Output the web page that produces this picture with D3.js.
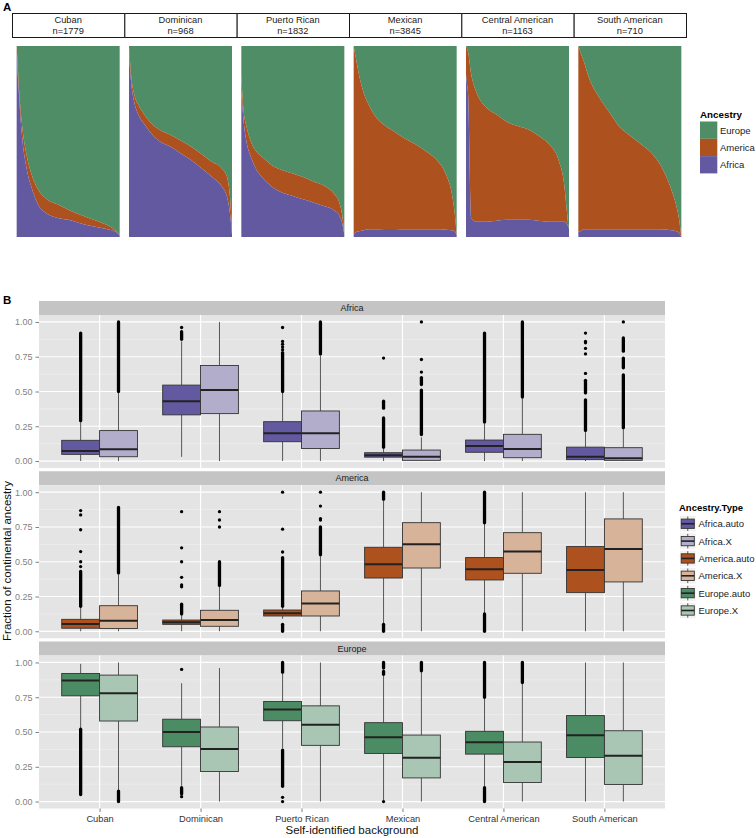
<!DOCTYPE html>
<html><head><meta charset="utf-8">
<script src="https://cdn.jsdelivr.net/npm/d3@7"></script>
<style>
body{margin:0;background:#fff}
svg{display:block;font-family:"Liberation Sans",Arial,Helvetica,sans-serif}
</style>
</head><body><svg id="chart" width="756" height="838"></svg>
<script>
// ---------------- DATA ----------------
const categories = ["Cuban","Dominican","Puerto Rican","Mexican","Central American","South American"];
const sampleSizes = [1779, 968, 1832, 3845, 1163, 710];

// Panel A: individuals ordered by European share; values at relative positions
const positions = [0,0.01,0.02,0.05,0.1,0.15,0.2,0.3,0.4,0.5,0.6,0.7,0.8,0.9,0.95,0.98,1];
const europeFrac = [
  [0,0.10,0.20,0.40,0.58,0.68,0.744,0.805,0.83,0.857,0.88,0.90,0.92,0.944,0.962,0.975,0.988],
  [0,0.08,0.15,0.25,0.317,0.36,0.395,0.44,0.465,0.495,0.526,0.564,0.605,0.64,0.683,0.787,0.96],
  [0.15,0.25,0.33,0.42,0.51,0.555,0.58,0.625,0.65,0.668,0.686,0.709,0.73,0.773,0.817,0.887,0.983],
  [0,0.03,0.058,0.145,0.25,0.311,0.36,0.415,0.45,0.485,0.515,0.551,0.593,0.677,0.764,0.869,0.99],
  [0,0.015,0.031,0.145,0.241,0.293,0.323,0.36,0.398,0.419,0.436,0.468,0.511,0.599,0.712,0.869,0.99],
  [0,0.014,0.031,0.075,0.162,0.223,0.267,0.346,0.424,0.468,0.511,0.555,0.625,0.747,0.834,0.913,1.0]
];
const africaFrac = [
  [0.97,0.86,0.77,0.54,0.35,0.25,0.178,0.12,0.10,0.09,0.075,0.06,0.05,0.038,0.03,0.02,0.01],
  [0.96,0.88,0.814,0.709,0.631,0.59,0.552,0.5,0.474,0.439,0.404,0.361,0.317,0.265,0.213,0.125,0.012],
  [0.76,0.69,0.62,0.5,0.41,0.35,0.314,0.262,0.232,0.215,0.197,0.18,0.162,0.14,0.113,0.07,0.012],
  [0.02,0.02,0.025,0.03,0.035,0.04,0.04,0.042,0.042,0.04,0.04,0.04,0.04,0.038,0.035,0.03,0.01],
  [0.85,0.8,0.75,0.1,0.08,0.08,0.08,0.085,0.09,0.09,0.09,0.085,0.08,0.08,0.08,0.07,0.04],
  [0.03,0.03,0.03,0.04,0.04,0.04,0.04,0.04,0.04,0.04,0.04,0.04,0.04,0.035,0.03,0.02,0.0]
];

// Panel B: box statistics [lower whisker, q1, median, q3, upper whisker]
const africaAutoStats = [[0,0.048,0.072,0.149,0.283],[0.03,0.332,0.43,0.546,0.86],[0,0.139,0.2,0.283,0.49],[0,0.028,0.042,0.06,0.1],[0,0.063,0.108,0.151,0.27],[0,0.01,0.031,0.1,0.21]];
const africaXStats = [[0,0.031,0.084,0.219,0.49],[0,0.341,0.51,0.687,1.0],[0,0.09,0.2,0.36,0.76],[0,0.005,0.03,0.079,0.17],[0,0.024,0.086,0.192,0.45],[0,0.005,0.02,0.096,0.236]];
const americaAutoStats = [[0,0.022,0.053,0.086,0.177],[0,0.05,0.065,0.081,0.12],[0.09,0.11,0.13,0.153,0.17],[0.058,0.383,0.482,0.604,0.945],[0.13,0.369,0.446,0.53,0.777],[0,0.278,0.441,0.609,1.0]];
const americaXStats = [[0,0.02,0.076,0.184,0.41],[0,0.036,0.082,0.151,0.32],[0,0.11,0.2,0.29,0.54],[0,0.455,0.626,0.781,1.0],[0,0.417,0.573,0.709,1.0],[0,0.355,0.592,0.808,1.0]];
const europeAutoStats = [[0.527,0.76,0.87,0.921,0.99],[0.113,0.394,0.5,0.592,0.851],[0.382,0.581,0.661,0.719,0.924],[0.01,0.346,0.462,0.567,0.911],[0.105,0.341,0.426,0.505,0.743],[0,0.317,0.476,0.618,1.0]];
const europeXStats = [[0.08,0.579,0.779,0.909,1.0],[0,0.216,0.377,0.536,0.96],[0,0.404,0.553,0.688,1.0],[0,0.17,0.315,0.478,0.935],[0,0.137,0.284,0.428,0.851],[0,0.123,0.329,0.509,1.0]];

// Outliers: dense runs [from, to] and single points
const africaAutoRuns = [[[0.29,0.92]],[[0.875,0.93]],[[0.5,0.78]],[[0.38,0.43],[0.1,0.31]],[[0.28,0.92]],[[0.49,0.58],[0.22,0.44]]];
const africaAutoPoints = [[],[0.96],[0.96,0.86,0.84,0.82,0.8],[0.74],[],[0.92,0.86,0.85,0.81,0.77,0.63]];
const africaXRuns = [[[0.5,1.0]],[],[[0.77,1.0]],[[0.55,0.6],[0.19,0.51]],[[0.46,1.0]],[[0.79,0.885],[0.67,0.74],[0.24,0.62]]];
const africaXPoints = [[],[],[],[1.0,0.73,0.64],[],[1.0]];
const americaAutoRuns = [[[0.18,0.43]],[[0.125,0.195]],[[0.18,0.53],[0.0,0.05]],[[0.95,1.0],[0.0,0.05]],[[0.78,1.0],[0.0,0.125]],[]];
const americaAutoPoints = [[0.465,0.5,0.573,0.73,0.837,0.868],[0.86,0.6,0.5,0.388,0.333,0.32],[0.57,0.734,1.0],[],[],[]];
const americaXRuns = [[[0.42,0.89]],[[0.33,0.5]],[[0.55,0.75]],[],[],[]];
const americaXPoints = [[],[0.75,0.8,0.86],[0.8,0.81,0.9,1.0],[],[],[]];
const europeAutoRuns = [[[0.05,0.52]],[[0.055,0.1]],[[0.93,1.0],[0.11,0.37]],[[0.96,1.0],[0.915,0.935]],[[0.75,1.0],[0.0,0.1]],[]];
const europeAutoPoints = [[],[0.95,0.035],[0.03,0.0],[0.0],[],[]];
const europeXRuns = [[[0.0,0.075]],[],[],[[0.94,1.0]],[[0.855,1.0]],[]];
const europeXPoints = [[],[],[],[],[],[]];

const ancestryNames = ["Europe","America","Africa"];
const seriesNames = ["Africa.auto","Africa.X","America.auto","America.X","Europe.auto","Europe.X"];
const yTicks = [0, 0.25, 0.5, 0.75, 1];
const yMinorTicks = [0.125, 0.375, 0.625, 0.875];

// ---------------- STYLES ----------------
const ancestryColors = {Europe:"#4E8D65", America:"#AD521F", Africa:"#6359A0"};
const seriesColors = {"Africa.auto":"#6359A0","Africa.X":"#B2ADCB","America.auto":"#AD511F","America.X":"#D7B39A","Europe.auto":"#4C8C64","Europe.X":"#A9C6B5"};

const svg = d3.select("#chart");

// ---------------- PANEL A ----------------
svg.append("text").attr("x",3).attr("y",10.5).attr("font-size",11.5).attr("font-weight","bold").text("A");

const stripBand = d3.scaleBand().domain(categories).range([12,686]);
const panelBand = d3.scaleBand().domain(categories).range([12,686]).paddingInner(0.083).paddingOuter(0.0415);
const yA = d3.scaleLinear().domain([0,1]).range([237,46]);

categories.forEach((c,i)=>{
  const g = svg.append("g");
  g.append("rect").attr("x",stripBand(c)+0.5).attr("y",13.5).attr("width",stripBand.bandwidth()).attr("height",24)
    .attr("fill","#fff").attr("stroke","#1a1a1a").attr("stroke-width",1);
  const cx = stripBand(c)+stripBand.bandwidth()/2;
  g.append("text").attr("x",cx).attr("y",23.3).attr("text-anchor","middle").attr("font-size",9.3).attr("fill","#222").text(c);
  g.append("text").attr("x",cx).attr("y",34).attr("text-anchor","middle").attr("font-size",9.3).attr("fill","#222").text("n="+sampleSizes[i]);

  const xA = d3.scaleLinear().domain([0,1]).range([panelBand(c), panelBand(c)+panelBand.bandwidth()]);
  const rows = positions.map((p,j)=>({p, a:africaFrac[i][j], e:europeFrac[i][j]}));
  const area = (lo,hi)=> d3.area().curve(d3.curveMonotoneX).x(d=>xA(d.p)).y0(d=>yA(lo(d))).y1(d=>yA(hi(d)));
  g.append("path").datum(rows).attr("fill",ancestryColors.Europe).attr("d",area(d=>1-d.e, d=>1));
  g.append("path").datum(rows).attr("fill",ancestryColors.America).attr("d",area(d=>d.a, d=>1-d.e));
  g.append("path").datum(rows).attr("fill",ancestryColors.Africa).attr("d",area(d=>0, d=>d.a));
});

// Legend A
const legA = svg.append("g");
legA.append("text").attr("x",700).attr("y",118).attr("font-size",9.8).attr("font-weight","bold").text("Ancestry");
ancestryNames.forEach((n,k)=>{
  const y0 = 121.5 + k*17.3;
  legA.append("rect").attr("x",700).attr("y",y0).attr("width",17.3).attr("height",17.3).attr("fill",ancestryColors[n]);
  legA.append("text").attr("x",720).attr("y",y0+12).attr("font-size",9.5).attr("fill","#222").text(n);
});

// ---------------- PANEL B ----------------
svg.append("text").attr("x",3).attr("y",303.5).attr("font-size",11.5).attr("font-weight","bold").text("B");

const xB = d3.scalePoint().domain(categories).range([39,665]).padding(0.6);
const step = xB.step();
const boxW = 0.375*step;

const facets = [
  {name:"Africa", top:301, series:[
    {key:"Africa.auto", stats:africaAutoStats, runs:africaAutoRuns, points:africaAutoPoints, off:-1},
    {key:"Africa.X", stats:africaXStats, runs:africaXRuns, points:africaXPoints, off:0}]},
  {name:"America", top:471.25, series:[
    {key:"America.auto", stats:americaAutoStats, runs:americaAutoRuns, points:americaAutoPoints, off:-1},
    {key:"America.X", stats:americaXStats, runs:americaXRuns, points:americaXPoints, off:0}]},
  {name:"Europe", top:641.5, series:[
    {key:"Europe.auto", stats:europeAutoStats, runs:europeAutoRuns, points:europeAutoPoints, off:-1},
    {key:"Europe.X", stats:europeXStats, runs:europeXRuns, points:europeXPoints, off:0}]}
];
const stripH = 14, panelH = 153, pL = 39, pR = 665;

facets.forEach((f,fi)=>{
  const g = svg.append("g");
  const pTop = f.top + stripH, pBot = pTop + panelH;
  const y = d3.scaleLinear().domain([-0.05,1.05]).range([pBot,pTop]);
  g.append("rect").attr("x",pL).attr("y",f.top).attr("width",pR-pL).attr("height",stripH).attr("fill","#C4C4C4");
  g.append("text").attr("x",(pL+pR)/2).attr("y",f.top+10.2).attr("text-anchor","middle").attr("font-size",9).attr("fill","#1a1a1a").text(f.name);
  g.append("rect").attr("x",pL).attr("y",pTop).attr("width",pR-pL).attr("height",panelH).attr("fill","#E4E4E4");
  yMinorTicks.forEach(t=>g.append("line").attr("x1",pL).attr("x2",pR).attr("y1",y(t)).attr("y2",y(t)).attr("stroke","#F1F1F1").attr("stroke-width",0.6));
  yTicks.forEach(t=>g.append("line").attr("x1",pL).attr("x2",pR).attr("y1",y(t)).attr("y2",y(t)).attr("stroke","#fff").attr("stroke-width",1.2));
  categories.forEach(c=>g.append("line").attr("x1",xB(c)).attr("x2",xB(c)).attr("y1",pTop).attr("y2",pBot).attr("stroke","#fff").attr("stroke-width",1.2));

  const ax = g.append("g").attr("transform",`translate(${pL},0)`)
    .call(d3.axisLeft(y).tickValues(yTicks).tickFormat(d3.format(".2f")).tickSize(3.5).tickPadding(3));
  ax.select(".domain").remove();
  ax.selectAll("line").attr("stroke","#7F7F7F");
  ax.selectAll("text").attr("fill","#7F7F7F").attr("font-size",9).attr("font-family",null);

  f.series.forEach(s=>{
    categories.forEach((c,i)=>{
      const [lw,q1,md,q3,uw] = s.stats[i];
      const x0 = xB(c) + s.off*boxW, cx = x0 + boxW/2;
      g.append("line").attr("x1",cx).attr("x2",cx).attr("y1",y(q3)).attr("y2",y(uw)).attr("stroke","#333").attr("stroke-width",0.8);
      g.append("line").attr("x1",cx).attr("x2",cx).attr("y1",y(q1)).attr("y2",y(lw)).attr("stroke","#333").attr("stroke-width",0.8);
      g.append("rect").attr("x",x0).attr("y",y(q3)).attr("width",boxW).attr("height",Math.max(0.5,y(q1)-y(q3)))
        .attr("fill",seriesColors[s.key]).attr("stroke","#333").attr("stroke-width",0.9);
      g.append("line").attr("x1",x0).attr("x2",x0+boxW).attr("y1",y(md)).attr("y2",y(md)).attr("stroke","#222").attr("stroke-width",2);
      s.runs[i].forEach(([lo,hi])=>g.append("line").attr("x1",cx).attr("x2",cx).attr("y1",y(lo)).attr("y2",y(hi))
        .attr("stroke","#000").attr("stroke-width",3.3).attr("stroke-linecap","round"));
      s.points[i].forEach(v=>g.append("circle").attr("cx",cx).attr("cy",y(v)).attr("r",1.65).attr("fill","#000"));
    });
  });

  if (fi === facets.length-1) {
    const xa = g.append("g").attr("transform",`translate(0,${pBot})`)
      .call(d3.axisBottom(xB).tickSize(3.5).tickPadding(3));
    xa.select(".domain").remove();
    xa.selectAll("line").attr("stroke","#7F7F7F");
    xa.selectAll("text").attr("fill","#333").attr("font-size",9.3).attr("font-family",null);
  }
});

// Axis titles
svg.append("text").attr("x",(pL+pR)/2).attr("y",833.5).attr("text-anchor","middle").attr("font-size",11.5).attr("fill","#111").text("Self-identified background");
svg.append("text").attr("transform","translate(11,561) rotate(-90)").attr("text-anchor","middle").attr("font-size",11.5).attr("fill","#111").text("Fraction of continental ancestry");

// Legend B
const legB = svg.append("g");
legB.append("text").attr("x",679).attr("y",511).attr("font-size",9.5).attr("font-weight","bold").text("Ancestry.Type");
seriesNames.forEach((n,k)=>{
  const y0 = 515.5 + k*17.35;
  legB.append("rect").attr("x",679.5).attr("y",y0).attr("width",16.5).attr("height",16.5).attr("fill","#F2F2F2").attr("stroke","#fff").attr("stroke-width",0.8);
  const cx = 679.5+8.25;
  legB.append("line").attr("x1",cx).attr("x2",cx).attr("y1",y0+1).attr("y2",y0+15.5).attr("stroke","#333").attr("stroke-width",0.8);
  legB.append("rect").attr("x",681.2).attr("y",y0+3.6).attr("width",13.1).attr("height",9.3).attr("fill",seriesColors[n]).attr("stroke","#333").attr("stroke-width",0.9);
  legB.append("line").attr("x1",681.2).attr("x2",694.3).attr("y1",y0+8.25).attr("y2",y0+8.25).attr("stroke","#222").attr("stroke-width",1.6);
  legB.append("text").attr("x",698.5).attr("y",y0+11.7).attr("font-size",9.5).attr("fill","#222").text(n);
});
</script>
</body></html>
